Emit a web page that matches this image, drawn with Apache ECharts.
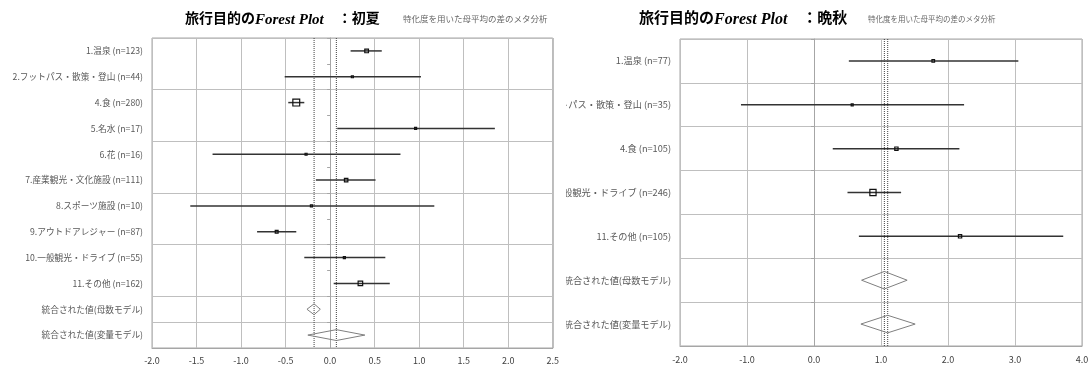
<!DOCTYPE html>
<html><head><meta charset="utf-8">
<script src="https://cdn.jsdelivr.net/npm/echarts@6/dist/echarts.min.js"></script>
<style>
html,body{margin:0;padding:0;background:#fff;width:1092px;height:368px;overflow:hidden;}
#left{position:absolute;left:0;top:0;width:562px;height:368px;}
#rwrap{position:absolute;left:566px;top:0;width:526px;height:368px;overflow:hidden;}
#right{position:absolute;left:-100px;top:0;width:626px;height:368px;}
</style></head><body>
<div id="left"></div><div id="rwrap"><div id="right"></div></div>
<script>
// ===== 初夏 =====
const earlySeason = '初夏';
const earlyNames = ['1.温泉','2.フットパス・散策・登山','4.食','5.名水','6.花','7.産業観光・文化施設','8.スポーツ施設','9.アウトドアレジャー','10.一般観光・ドライブ','11.その他'];
const earlyN     = [123, 44, 280, 17, 16, 111, 10, 87, 55, 162];
const earlyEst   = [0.41, 0.25, -0.38, 0.96, -0.27, 0.18, -0.21, -0.60, 0.16, 0.34];
const earlyLower = [0.23, -0.51, -0.47, 0.08, -1.32, -0.16, -1.57, -0.82, -0.29, 0.04];
const earlyUpper = [0.58, 1.02, -0.29, 1.85, 0.79, 0.51, 1.17, -0.38, 0.62, 0.67];
const earlyPooledEst   = [-0.18, 0.07];
const earlyPooledLower = [-0.26, -0.25];
const earlyPooledUpper = [-0.11, 0.39];
const earlyTicks = [-2.0, -1.5, -1.0, -0.5, 0.0, 0.5, 1.0, 1.5, 2.0, 2.5];

// ===== 晩秋 =====
const lateSeason = '晩秋';
const lateNames = ['1.温泉','2.フットパス・散策・登山','4.食','10.一般観光・ドライブ','11.その他'];
const lateN     = [77, 35, 105, 246, 105];
const lateEst   = [1.78, 0.57, 1.23, 0.88, 2.18];
const lateLower = [0.52, -1.09, 0.28, 0.50, 0.67];
const lateUpper = [3.05, 2.24, 2.17, 1.30, 3.72];
const latePooledEst   = [1.05, 1.10];
const latePooledLower = [0.71, 0.70];
const latePooledUpper = [1.39, 1.51];
const lateTicks = [-2.0, -1.0, 0.0, 1.0, 2.0, 3.0, 4.0];

const pooledNames = ['統合された値(母数モデル)', '統合された値(変量モデル)'];
const titleHead = '旅行目的の';
const titleLatin = 'Forest Plot';
const subtitleText = '特化度を用いた母平均の差のメタ分析';

const CJK = '"Noto Sans CJK JP", "Noto Sans", sans-serif';
const SERIF = '"Liberation Serif", serif';

const mctx = document.createElement('canvas').getContext('2d');
function textW(font, s) { mctx.font = font; return mctx.measureText(s).width; }

function buildOption(cfg) {
  const cats = cfg.names.map((n, i) => n + ' (n=' + cfg.n[i] + ')').concat(pooledNames);
  const k = cfg.names.length;
  const studyData = cfg.est.map((e, i) => [cfg.lower[i], cfg.upper[i], e, i, Math.max(2, 0.1 * Math.pow(cfg.n[i], 0.75))]);
  const pooledData = cfg.pEst.map((e, i) => [cfg.pLower[i], cfg.pUpper[i], e, k + i]);
  const refData = cfg.pEst.map(e => [e]);
  const step = cfg.ticks[1] - cfg.ticks[0];
  const ts = cfg.titleSize;
  const w1 = textW('bold ' + ts + 'px "Noto Sans CJK JP"', titleHead);
  const w2 = textW('italic bold ' + (ts + 1) + 'px "Liberation Serif"', titleLatin);
  const lh = 16;
  const cjkStyle = { fontFamily: CJK, fontWeight: 'bold', fontSize: ts, color: '#000', lineHeight: lh };
  return {
    animation: false,
    title: [
      { text: titleHead, left: cfg.titleLeft, top: cfg.titleCenter - lh / 2, padding: 0, textStyle: cjkStyle },
      { text: titleLatin, left: cfg.titleLeft + w1, top: cfg.titleCenter - lh / 2 + cfg.latinShift, padding: 0,
        textStyle: { fontFamily: SERIF, fontStyle: 'italic', fontWeight: 'bold', fontSize: ts + 1, color: '#000', lineHeight: lh } },
      { text: '　：' + cfg.season, left: cfg.titleLeft + w1 + w2, top: cfg.titleCenter - lh / 2, padding: 0, textStyle: cjkStyle },
      { text: subtitleText, left: cfg.subLeft, top: cfg.subTop, padding: 0,
        textStyle: { fontFamily: CJK, fontWeight: 'normal', fontSize: cfg.subSize, color: '#666' } }
    ],
    grid: { left: cfg.grid[0], right: cfg.grid[1], top: cfg.grid[2], bottom: cfg.grid[3], show: true, borderColor: '#a6a6a6', borderWidth: 1 },
    xAxis: {
      type: 'value', min: cfg.ticks[0], max: cfg.ticks[cfg.ticks.length - 1], interval: step,
      axisLine: { show: true, lineStyle: { color: '#a6a6a6' } },
      axisTick: { show: false },
      splitLine: { show: true, lineStyle: { color: '#bfbfbf', width: 1 } },
      axisLabel: { margin: cfg.xMargin, fontFamily: CJK, fontSize: 9, color: '#404040', formatter: v => v.toFixed(1) }
    },
    yAxis: {
      type: 'category', data: cats, inverse: true, boundaryGap: true,
      axisLine: { show: true, lineStyle: { color: '#a6a6a6' } },
      axisTick: { show: true, interval: 0, length: 3, lineStyle: { color: '#a6a6a6' } },
      splitLine: { show: true, interval: cfg.splitInterval, lineStyle: { color: '#bfbfbf', width: 1 } },
      axisLabel: { margin: 9, interval: 0, fontFamily: CJK, fontSize: cfg.labelSize, color: '#595959' }
    },
    series: [
      { type: 'custom', data: refData, encode: { x: 0 }, z: 2, silent: true,
        renderItem(params, api) {
          const cs = params.coordSys;
          const x = api.coord([api.value(0), 0])[0];
          return { type: 'line', shape: { x1: x, y1: cs.y, x2: x, y2: cs.y + cs.height },
                   style: { stroke: '#404040', lineWidth: 1, lineDash: [1, 1] } };
        } },
      { type: 'custom', data: pooledData, encode: { x: [0, 1, 2], y: 3 }, z: 3, silent: true,
        renderItem(params, api) {
          const yi = api.value(3);
          const pl = api.coord([api.value(0), yi]);
          const ph = api.coord([api.value(1), yi]);
          const pc = api.coord([api.value(2), yi]);
          const h = api.size([0, 1])[1] * cfg.diamondH;
          return { type: 'polygon', shape: { points: [[pl[0], pc[1]], [pc[0], pc[1] - h / 2], [ph[0], pc[1]], [pc[0], pc[1] + h / 2]] },
                   style: { stroke: '#7f7f7f', fill: 'none', lineWidth: 1 } };
        } },
      { type: 'custom', data: studyData, encode: { x: [0, 1, 2], y: 3 }, z: 4, silent: true,
        renderItem(params, api) {
          const yi = api.value(3);
          const pl = api.coord([api.value(0), yi]);
          const ph = api.coord([api.value(1), yi]);
          const pc = api.coord([api.value(2), yi]);
          const s = api.value(4);
          return { type: 'group', children: [
            { type: 'line', shape: { x1: pl[0], y1: pc[1], x2: ph[0], y2: pc[1] }, style: { stroke: '#333', lineWidth: 1.5 } },
            { type: 'rect', shape: { x: pc[0] - s / 2, y: pc[1] - s / 2, width: s, height: s }, style: { stroke: '#111', fill: 'none', lineWidth: 1.2 } }
          ] };
        } }
    ]
  };
}

const leftChart = echarts.init(document.getElementById('left'), null, { renderer: 'canvas' });
leftChart.setOption(buildOption({
  season: earlySeason, names: earlyNames, n: earlyN, est: earlyEst, lower: earlyLower, upper: earlyUpper,
  pEst: earlyPooledEst, pLower: earlyPooledLower, pUpper: earlyPooledUpper, ticks: earlyTicks,
  grid: [152, 8, 38, 20], splitInterval: 1, xMargin: 8, diamondH: 0.42, labelSize: 8.7,
  titleLeft: 185, titleCenter: 17.5, latinShift: 2.5, titleSize: 14, subLeft: 403, subTop: 15, subSize: 8.5
}));

const rightChart = echarts.init(document.getElementById('right'), null, { renderer: 'canvas' });
rightChart.setOption(buildOption({
  season: lateSeason, names: lateNames, n: lateN, est: lateEst, lower: lateLower, upper: lateUpper,
  pEst: latePooledEst, pLower: latePooledLower, pUpper: latePooledUpper, ticks: lateTicks,
  grid: [214, 10, 39, 22], splitInterval: 0, xMargin: 9, diamondH: 0.40, labelSize: 9.2,
  titleLeft: 173, titleCenter: 17.5, latinShift: 2.5, titleSize: 15, subLeft: 402, subTop: 15, subSize: 7.5
}));
</script>
</body></html>
